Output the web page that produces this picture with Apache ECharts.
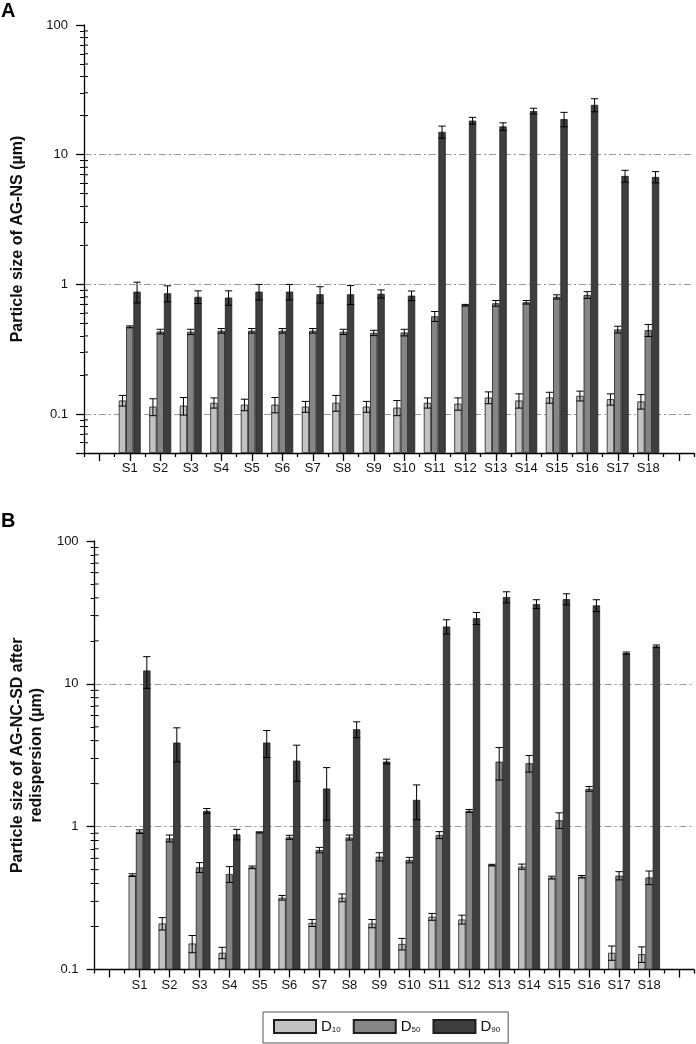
<!DOCTYPE html>
<html><head><meta charset="utf-8">
<script src="https://cdn.jsdelivr.net/npm/echarts@6/dist/echarts.min.js"></script>
<style>html,body{margin:0;padding:0;background:#fff}#c{width:696px;height:1044px}</style>
</head><body><div id="c"></div>
<script>
// ---------- data ----------
const samples = ['S1','S2','S3','S4','S5','S6','S7','S8','S9','S10','S11','S12','S13','S14','S15','S16','S17','S18'];
const seriesNames = ['D10','D50','D90'];
const yTickLabels = [0.1, 1, 10, 100];

// Panel A: AG-NS
const a_d10    = [0.127,0.114,0.116,0.122,0.118,0.118,0.114,0.122,0.114,0.112,0.122,0.120,0.134,0.127,0.134,0.138,0.130,0.125];
const a_d10_sd = [0.012,0.017,0.018,0.011,0.012,0.016,0.011,0.017,0.011,0.015,0.011,0.013,0.014,0.016,0.013,0.012,0.013,0.016];
const a_d50    = [0.470,0.432,0.430,0.438,0.438,0.438,0.438,0.430,0.422,0.425,0.567,0.690,0.714,0.727,0.800,0.828,0.448,0.443];
const a_d50_sd = [0.008,0.018,0.020,0.018,0.018,0.018,0.018,0.020,0.020,0.025,0.050,0.010,0.036,0.023,0.030,0.050,0.027,0.047];
const a_d90    = [0.878,0.853,0.800,0.790,0.878,0.878,0.838,0.838,0.845,0.818,15.0,18.3,16.5,21.7,18.8,24.2,6.85,6.73];
const a_d90_sd = [0.16,0.12,0.09,0.10,0.12,0.12,0.12,0.14,0.06,0.07,1.6,1.1,1.1,1.1,2.4,2.8,0.72,0.67];

// Panel B: AG-NC-SD after redispersion
const b_d10    = [0.458,0.210,0.152,0.131,0.519,0.318,0.212,0.318,0.210,0.151,0.234,0.224,0.538,0.525,0.440,0.446,0.131,0.128];
const b_d10_sd = [0.010,0.021,0.021,0.012,0.011,0.012,0.012,0.020,0.014,0.014,0.013,0.016,0.007,0.022,0.010,0.009,0.015,0.016];
const b_d50    = [0.923,0.828,0.519,0.466,0.912,0.842,0.686,0.840,0.616,0.584,0.874,1.29,2.85,2.78,1.11,1.84,0.454,0.441];
const b_d50_sd = [0.027,0.046,0.041,0.059,0.008,0.028,0.030,0.034,0.041,0.026,0.049,0.030,0.73,0.37,0.14,0.07,0.030,0.048];
const b_d90    = [12.4,3.88,1.29,0.883,3.88,2.90,1.85,4.81,2.86,1.54,25.2,28.8,40.5,36.2,39.2,35.4,16.4,18.3];
const b_d90_sd = [3.1,1.04,0.05,0.075,0.83,0.82,0.74,0.61,0.11,0.42,2.9,2.8,3.6,2.6,3.5,3.4,0.3,0.4];

// ---------- styling ----------
const FONT = '"Liberation Sans", Arial, sans-serif';
const COLORS = ['#c2c2c2', '#858585', '#3e3e3e'];
const BAR_W = 7.3;
const categories = [' '].concat(samples, ['  ']);

function isTickLabel(v) {
  return yTickLabels.some(t => Math.abs(t - v) / t < 1e-6);
}

// minor tick positions of a log axis (2..9 x 10^p) between lo and hi
function minorValues(lo, hi) {
  const out = [];
  for (let p = -2; p <= 2; p++) {
    for (let m = 2; m <= 9; m++) {
      const v = +(m * Math.pow(10, p)).toPrecision(3);
      if (v > lo * 1.0001 && v < hi * 0.9999) out.push(v);
    }
  }
  return out;
}

const grids = [
  { left: 79, right: 2, top: 25, height: 428 },
  { left: 79, right: 2, top: 541, height: 428.5 }
];

function xAxes(gi) {
  return [
    { type: 'category', gridIndex: gi, data: categories, boundaryGap: true,
      axisLine: { lineStyle: { color: '#000', width: 1.3 } },
      axisTick: { show: true, alignWithLabel: false, length: 4, lineStyle: { color: '#000', width: 1.3 } },
      axisLabel: { color: '#111', fontSize: 13, fontFamily: FONT, margin: 9, interval: 0 } },
    { type: 'category', gridIndex: gi, data: categories, boundaryGap: true, position: 'bottom',
      axisLine: { show: false },
      axisTick: { show: true, alignWithLabel: true, interval: 0, length: 8, lineStyle: { color: '#000', width: 1.3 } },
      axisLabel: { show: false } }
  ];
}

function yAxis(gi, min, name, gap) {
  return {
    type: 'log', gridIndex: gi, min: min, max: 100,
    name: name, nameLocation: 'middle', nameRotate: 90, nameGap: gap,
    nameTextStyle: { fontSize: 16, fontWeight: 'bold', fontFamily: FONT, color: '#111', lineHeight: 19 },
    axisLine: { show: true, lineStyle: { color: '#000', width: 1.3 } },
    axisTick: { show: true, length: 8, lineStyle: { color: '#000', width: 1.3 } },
    minorTick: { show: true, splitNumber: 9, length: 4, lineStyle: { color: '#000', width: 1 } },
    axisLabel: { color: '#111', fontSize: 13, fontFamily: FONT, margin: 16,
      formatter: v => isTickLabel(v) ? String(+(+v).toPrecision(3)) : '' },
    splitLine: { show: true, showMinLine: false, showMaxLine: false,
      lineStyle: { color: '#9a9a9a', width: 1, type: [7, 3, 2, 3] } },
    startValue: min
  };
}

function barSeries(gi, k, vals) {
  return {
    type: 'bar', name: seriesNames[k], xAxisIndex: gi * 2, yAxisIndex: gi,
    data: ['-'].concat(vals, ['-']),
    barWidth: BAR_W, barGap: '0%',
    itemStyle: { color: COLORS[k], borderColor: '#1e1e1e', borderWidth: 0.8 },
    silent: true, z: 2
  };
}

function errSeries(gi, k, vals, sds) {
  return {
    type: 'custom', name: 'err' + gi + k, xAxisIndex: gi * 2, yAxisIndex: gi,
    data: vals.map((v, i) => [i + 1, v, sds[i]]),
    encode: { x: 0, y: 1 }, silent: true, z: 5, clip: false,
    renderItem(params, api) {
      const c = api.value(0), v = api.value(1), s = api.value(2);
      const x = api.coord([c, v])[0] + (k - 1) * BAR_W;
      const yT = api.coord([c, v + s])[1];
      const yB = api.coord([c, Math.max(v - s, 1e-6)])[1];
      const h = BAR_W / 2;
      const st = { stroke: '#000', lineWidth: 1 };
      return { type: 'group', children: [
        { type: 'line', shape: { x1: x, y1: yT, x2: x, y2: yB }, style: st },
        { type: 'line', shape: { x1: x - h, y1: yT, x2: x + h, y2: yT }, style: st },
        { type: 'line', shape: { x1: x - h, y1: yB, x2: x + h, y2: yB }, style: st }
      ]};
    }
  };
}

// log minor ticks on the y axis, placed through the axes' own coordinates
function minorTickSeries(gi, min) {
  return {
    type: 'custom', name: 'minor' + gi, xAxisIndex: gi * 2, yAxisIndex: gi,
    data: minorValues(min, 100).map(v => [1, v]),
    encode: { x: 0, y: 1 }, silent: true, z: 6,
    renderItem(params, api) {
      const v = api.value(1);
      const p1 = api.coord([1, v]);
      const p2 = api.coord([2, v]);
      const x0 = p1[0] - 1.5 * (p2[0] - p1[0]);
      return { type: 'group', children: [
        { type: 'line', shape: { x1: x0, y1: p1[1], x2: x0 + 4, y2: p1[1] },
          style: { stroke: '#000', lineWidth: 1 } }
      ]};
    }
  };
}

const option = {
  animation: false,
  backgroundColor: '#fff',
  title: [
    { text: 'A', left: 1, top: 1, padding: 0, textStyle: { fontSize: 20, fontWeight: 'bold', fontFamily: FONT, color: '#000' } },
    { text: 'B', left: 1, top: 511, padding: 0, textStyle: { fontSize: 20, fontWeight: 'bold', fontFamily: FONT, color: '#000' } }
  ],
  grid: grids,
  xAxis: xAxes(0).concat(xAxes(1)),
  yAxis: [
    yAxis(0, 0.05, 'Particle size of AG-NS (µm)', 57),
    yAxis(1, 0.1, 'Particle size of AG-NC-SD after\nredispersion (µm)', 47)
  ],
  legend: {
    data: seriesNames, left: 263, top: 1012,
    padding: [7, 8, 9, 10], itemGap: 12, itemWidth: 42, itemHeight: 13,
    borderColor: '#555', borderWidth: 1, backgroundColor: '#fff',
    icon: 'rect', selectedMode: false,
    formatter: n => '{m|D}{s|' + n.slice(1) + '}',
    textStyle: { color: '#111', fontFamily: FONT,
      rich: { m: { fontSize: 15, fontFamily: FONT, color: '#111' },
              s: { fontSize: 8, fontFamily: FONT, color: '#111', verticalAlign: 'bottom', padding: [7, 0, 0, 0] } } }
  },
  series: [
    barSeries(0, 0, a_d10), barSeries(0, 1, a_d50), barSeries(0, 2, a_d90),
    errSeries(0, 0, a_d10, a_d10_sd), errSeries(0, 1, a_d50, a_d50_sd), errSeries(0, 2, a_d90, a_d90_sd),
    barSeries(1, 0, b_d10), barSeries(1, 1, b_d50), barSeries(1, 2, b_d90),
    errSeries(1, 0, b_d10, b_d10_sd), errSeries(1, 1, b_d50, b_d50_sd), errSeries(1, 2, b_d90, b_d90_sd),
    minorTickSeries(0, 0.05), minorTickSeries(1, 0.1)
  ]
};

const chart = echarts.init(document.getElementById('c'), null, { renderer: 'canvas' });
chart.setOption(option);
</script>
</body></html>
